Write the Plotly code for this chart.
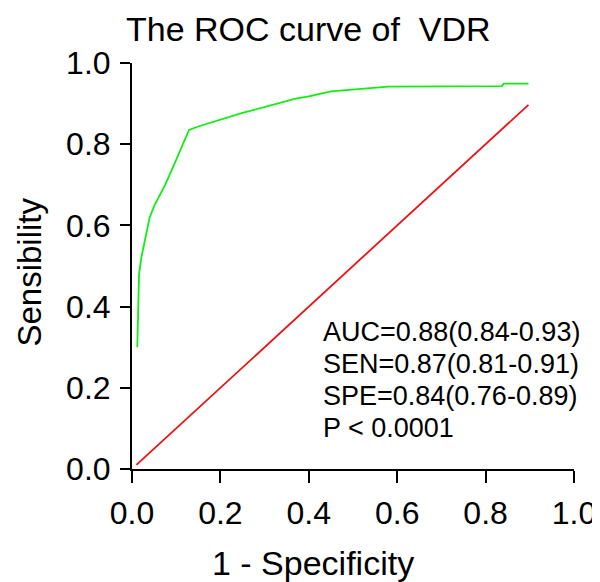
import plotly.graph_objects as go

# ROC curve of VDR
fpr = [0.012, 0.016, 0.021, 0.027, 0.040, 0.051, 0.075, 0.097, 0.129, 0.148,
       0.25, 0.37, 0.40, 0.45, 0.52, 0.58, 0.837, 0.841, 0.897]
tpr = [0.30, 0.48, 0.52, 0.55, 0.62, 0.65, 0.70, 0.754, 0.835, 0.843,
       0.877, 0.912, 0.918, 0.930, 0.937, 0.942, 0.943, 0.949, 0.949]

# reference line
ref_x = [0.01, 0.897]
ref_y = [0.01, 0.897]

tick_vals = [0.0, 0.2, 0.4, 0.6, 0.8, 1.0]
tick_text = ['0.0', '0.2', '0.4', '0.6', '0.8', '1.0']

stats = ['AUC=0.88(0.84-0.93)', 'SEN=0.87(0.81-0.91)',
         'SPE=0.84(0.76-0.89)', 'P < 0.0001']

FONT = 'Arial, Liberation Sans, sans-serif'

fig = go.Figure()
fig.add_trace(go.Scatter(x=ref_x, y=ref_y, mode='lines',
                         line=dict(color='#ee1111', width=1.8)))
fig.add_trace(go.Scatter(x=fpr, y=tpr, mode='lines',
                         line=dict(color='#11ee11', width=1.8)))

fig.update_layout(
    width=600, height=582,
    margin=dict(l=124, r=29, t=55, b=121),
    plot_bgcolor='white', paper_bgcolor='white',
    showlegend=False,
    font=dict(family=FONT, color='black'),
)
fig.update_xaxes(range=[0, 1], tickvals=tick_vals, ticktext=tick_text,
                 showgrid=False, zeroline=False, showline=True,
                 linecolor='black', linewidth=2, ticks='outside',
                 ticklen=12, tickwidth=2, tickcolor='black',
                 tickfont=dict(size=32), ticklabelstandoff=3)
fig.update_yaxes(range=[0, 1], tickvals=tick_vals, ticktext=tick_text,
                 showgrid=False, zeroline=False, showline=True,
                 linecolor='black', linewidth=2, ticks='outside',
                 ticklen=10, tickwidth=2, tickcolor='black',
                 tickfont=dict(size=32), ticklabelstandoff=3)

# title and axis titles as annotations (placed like the original)
fig.add_annotation(text='The ROC curve of\u00a0 VDR', x=0.4004, y=1.0837,
                   xref='paper', yref='paper', showarrow=False,
                   xanchor='center', yanchor='middle', font=dict(size=34))
fig.add_annotation(text='1 - Specificity', x=0.4105, y=-0.2315,
                   xref='paper', yref='paper', showarrow=False,
                   xanchor='center', yanchor='middle', font=dict(size=34))
fig.add_annotation(text='Sensibility', x=-0.232, y=0.485, textangle=-90,
                   xref='paper', yref='paper', showarrow=False,
                   xanchor='center', yanchor='middle', font=dict(size=33))

stat_y = [0.3374, 0.2586, 0.1798, 0.1010]
for s, yy in zip(stats, stat_y):
    fig.add_annotation(text=s, x=0.428, y=yy, xref='paper', yref='paper',
                       showarrow=False, xanchor='left', yanchor='middle',
                       font=dict(size=27))

fig.write_html("out.html")
